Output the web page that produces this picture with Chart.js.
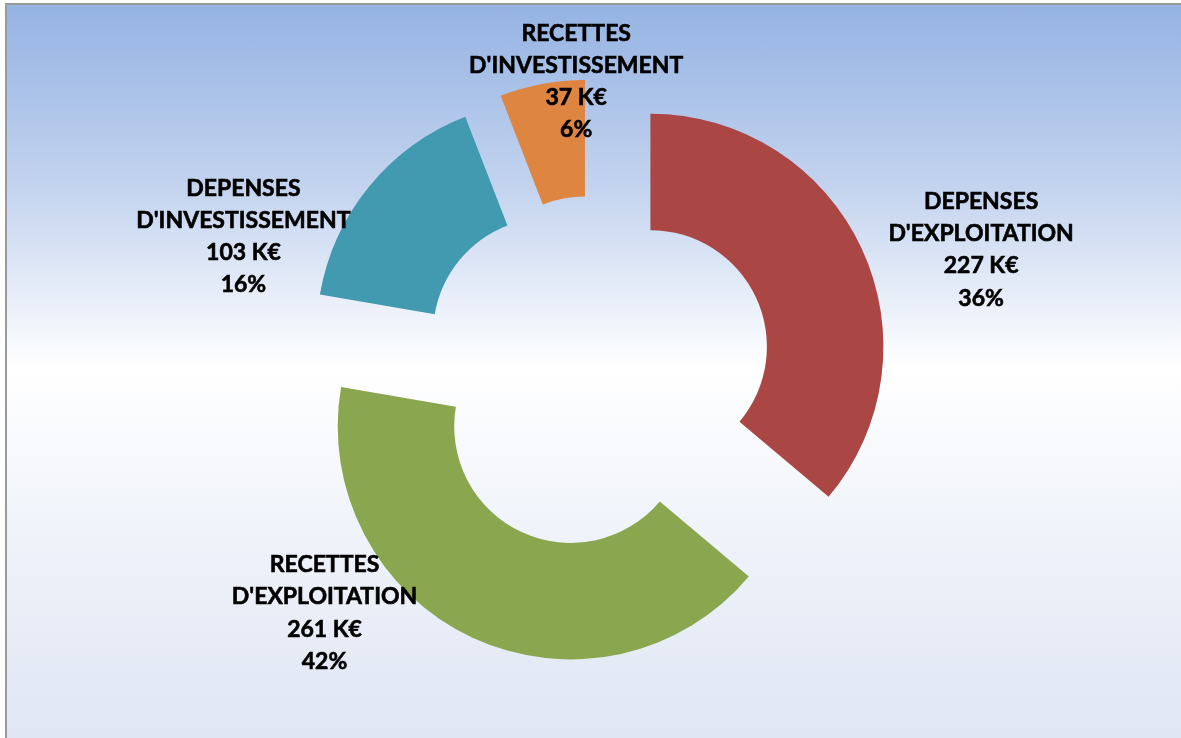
<!DOCTYPE html>
<html>
<head>
<meta charset="utf-8">
<script src="https://cdn.jsdelivr.net/npm/chart.js@4.4.0/dist/chart.umd.min.js"></script>
<style>
	html, body { margin: 0; padding: 0; background: #fff; overflow: hidden; }
	#frame {
		position: absolute; left: 5px; top: 3px; width: 1180px; height: 740px;
		border-left: 2px solid #9a9a9a; border-top: 2px solid #9a9a9a;
		background: linear-gradient(to bottom, #95b3e3 0%, #c4d4ef 25%, #ffffff 49%, #edf1f9 75%, #dfe6f3 100%);
	}
	#wrap { position: absolute; left: 0; top: 0; width: 1181px; height: 738px; }
</style>
</head>
<body>
<div id="frame"></div>
<div id="wrap"><canvas id="budget-chart"></canvas></div>
<script>
	// data
	const categories = ["DEPENSES D'EXPLOITATION", "RECETTES D'EXPLOITATION", "DEPENSES D'INVESTISSEMENT", "RECETTES D'INVESTISSEMENT"];
	const values = [227, 261, 103, 37];
	const unit = 'K€';
	const colors = ['#AA4644', '#8AA74F', '#429AB0', '#DE8541'];

	// pull every slice away from the centre, same distance for all
	const explode = {
		id: 'explode',
		beforeDatasetDraw(chart, args, opts) {
			const d = opts.distance || 0;
			args.meta.data.forEach(function(arc) {
				if (arc._exploded) return;
				arc._exploded = true;
				const orig = arc.draw;
				arc.draw = function(ctx, area) {
					const mid = (this.startAngle + this.endAngle) / 2;
					ctx.save();
					ctx.translate(Math.cos(mid) * d, Math.sin(mid) * d);
					orig.call(this, ctx, area);
					ctx.restore();
				};
			});
		}
	};

	// the multi-line labels next to each slice
	const sliceLabels = {
		id: 'sliceLabels',
		afterDatasetsDraw(chart, args, opts) {
			const ctx = chart.ctx;
			const meta = chart.getDatasetMeta(0);
			const total = values.reduce((a, b) => a + b, 0);
			meta.data.forEach(function(arc, i) {
				const a = opts.anchors[i];
				const ang = (a.angle - 90) * Math.PI / 180;
				const r = arc.outerRadius * a.dist;
				const x = arc.x + Math.cos(ang) * r;
				const y = arc.y + Math.sin(ang) * r;
				const words = categories[i].split(' ');
				const lines = words.concat([values[i] + ' ' + unit, Math.round(values[i] / total * 100) + '%']);
				ctx.save();
				ctx.font = opts.font;
				ctx.fillStyle = '#000';
				ctx.strokeStyle = '#000';
				ctx.lineWidth = 0.6;
				ctx.textAlign = 'center';
				ctx.textBaseline = 'middle';
				lines.forEach(function(t, k) {
					const ty = y + (k - (lines.length - 1) / 2) * opts.lineHeight;
					ctx.fillText(t, x, ty);
					ctx.strokeText(t, x, ty);
				});
				ctx.restore();
			});
		}
	};

	const config = {
		type: 'doughnut',
		data: {
			labels: categories,
			datasets: [{
				data: values,
				backgroundColor: colors,
				borderWidth: 0,
				hoverOffset: 0
			}]
		},
		options: {
			responsive: false,
			animation: false,
			events: [],
			cutout: '50%',
			radius: 233,
			layout: { padding: { left: 11, top: 6 } },
			plugins: {
				legend: { display: false },
				tooltip: { enabled: false },
				explode: { distance: 60 },
				sliceLabels: {
					font: 'bold 23px Lato, "Liberation Sans", sans-serif',
					lineHeight: 32.2,
					anchors: [
						{ angle: 72.4, dist: 1.734 },
						{ angle: 228.4, dist: 1.558 },
						{ angle: 291, dist: 1.621 },
						{ angle: 356.1, dist: 1.249 }
					]
				}
			}
		},
		plugins: [explode, sliceLabels]
	};

	const canvas = document.getElementById('budget-chart');
	canvas.width = 1181;
	canvas.height = 738;
	new Chart(canvas, config);
</script>
</body>
</html>
